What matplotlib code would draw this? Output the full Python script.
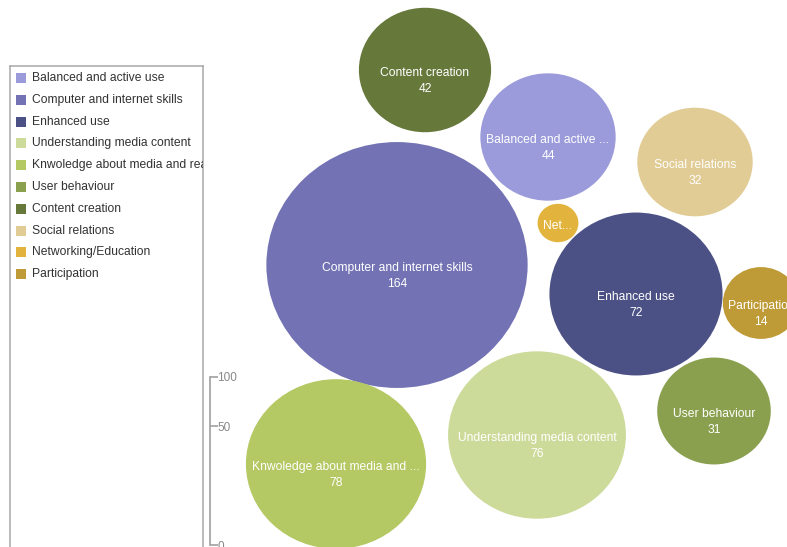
import matplotlib
matplotlib.use("Agg")
import matplotlib.pyplot as plt
import numpy as np
from matplotlib.patches import Ellipse, Rectangle

# data
categories = ["Balanced and active use", "Computer and internet skills", "Enhanced use",
              "Understanding media content", "Knwoledge about media and reality",
              "User behaviour", "Content creation", "Social relations",
              "Networking/Education", "Participation"]
values = [44, 164, 72, 76, 78, 31, 42, 32, 4, 14]
# labels as the chart shows them inside the bubbles (truncated when too wide)
bubble_labels = ["Balanced and active ...", "Computer and internet skills", "Enhanced use",
                 "Understanding media content", "Knwoledge about media and ...",
                 "User behaviour", "Content creation", "Social relations",
                 "Net...", "Participation"]
show_value = [True, True, True, True, True, True, True, True, False, True]
size_ticks = [0, 50, 100]

# bubble layout (packing positions, in pixels of the canvas)
layout_x = [548, 397, 636, 537, 336, 714, 425, 695, 558, 761]
layout_y = [137, 265, 294, 435, 464, 411, 70, 162, 223, 303]

colors = ["#9b9bdb", "#7272b4", "#4b5185", "#ccdb9a", "#b4c863",
          "#8aa04f", "#66783a", "#e2cc95", "#e2b33d", "#bf9b37"]

W, H = 787, 547
fig = plt.figure(figsize=(W / 100, H / 100), dpi=100)
plt.rcParams['font.family'] = ['Liberation Sans', 'DejaVu Sans']

ax = fig.add_axes([0, 0, 1, 1])
ax.set_xlim(0, W)
ax.set_ylim(H, 0)
ax.axis('off')

for v, lab, sv, cx, cy, c in zip(values, bubble_labels, show_value, layout_x, layout_y, colors):
    rx = 10.2 * np.sqrt(v)
    ry = 9.6 * np.sqrt(v)
    ax.add_patch(Ellipse((cx, cy), 2 * rx, 2 * ry, facecolor=c, edgecolor='none'))
    ax.text(cx, cy + 3, lab, color='white', fontsize=8.7, ha='center', va='center')
    if sv:
        ax.text(cx, cy + 19, str(v), color='white', fontsize=8.7, ha='center', va='center')

# legend panel (runs past the bottom edge)
top = 66
hpx = H - top + 10
lax = fig.add_axes([10 / W, -10 / H, (203 - 10) / W, hpx / H])
lax.set_xlim(0, 193)
lax.set_ylim(hpx, 0)
lax.set_xticks([])
lax.set_yticks([])
for s in lax.spines.values():
    s.set_color('#a8a8a8')
    s.set_linewidth(1.1)
lax.spines['bottom'].set_visible(False)
for i, (cat, c) in enumerate(zip(categories, colors)):
    yy = 12 + i * 21.8
    lax.add_patch(Rectangle((6, yy - 5), 10, 10, facecolor=c, edgecolor='none'))
    lax.text(22, yy, cat, fontsize=8.7, color='#333333', va='center', ha='left', clip_on=True)

# size scale (sqrt)
sax = fig.add_axes([210 / W, (H - 545) / H, 6 / W, (545 - 377) / H])
sax.set_yscale('function', functions=(np.sqrt, np.square))
sax.set_ylim(0, 100)
sax.set_yticks(size_ticks)
sax.set_xticks([])
for k in ['top', 'right', 'bottom']:
    sax.spines[k].set_visible(False)
sax.spines['left'].set_color('#a0a0a0')
sax.spines['left'].set_linewidth(1.2)
sax.patch.set_alpha(0)
sax.tick_params(axis='y', direction='in', length=6, width=1.2, color='#a0a0a0',
                left=True, right=False, labelleft=False, labelright=True,
                labelsize=8.5, labelcolor='#888888', pad=1)

fig.savefig("out.png", dpi=100)
